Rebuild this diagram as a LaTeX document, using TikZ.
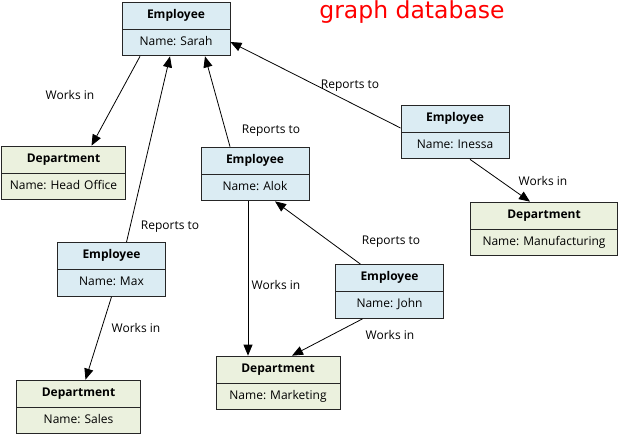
\documentclass[tikz,border=0pt]{standalone}
\usepackage{fontspec}
\setmainfont{Open Sans}
\newfontfamily\titlefont{DejaVu Sans}
\usetikzlibrary{positioning,arrows.meta,shapes.multipart}
\frenchspacing

\definecolor{empblue}{RGB}{219,236,243}
\definecolor{depgreen}{RGB}{235,241,222}

\newcommand{\ent}[2]{\strut\textbf{#1}\nodepart{two}\strut #2}

\tikzset{
  entity/.style={rectangle split, rectangle split parts=2, draw=black!85, line width=0.9pt,
    align=center, inner xsep=0pt, inner ysep=6pt, font=\fontsize{12}{14}\selectfont},
  employee/.style={entity, fill=empblue, text width=108pt},
  department/.style={entity, fill=depgreen, text width=124pt},
  rel/.style={-{Triangle[length=11pt,width=9pt]}, line width=0.8pt},
  rellabel/.style={font=\fontsize{12}{14}\selectfont, inner sep=1pt},
}

\begin{document}
\begin{tikzpicture}[x=1pt,y=-1pt]
    \useasboundingbox (0,0) rectangle (620,435);

    \node[text=red, font=\titlefont\fontsize{23.5}{26}\selectfont, inner sep=0pt] (title) at (412,12.5) {graph database};

    % employees
    \node[employee] (sarah)  at (176,29)    {\ent{Employee}{Name: Sarah}};
    \node[employee] (alok)   at (255,174)   {\ent{Employee}{Name: Alok}};
    \node[employee] (inessa) at (455,132)   {\ent{Employee}{Name: Inessa}};
    \node[employee] (max)    at (111.5,269.5) {\ent{Employee}{Name: Max}};
    \node[employee] (john)   at (389.5,291.5) {\ent{Employee}{Name: John}};

    % departments
    \node[department] (head)  at (63.5,173) {\ent{Department}{Name: Head Office}};
    \node[department, text width=147pt] (manuf) at (544,229) {\ent{Department}{Name: Manufacturing}};
    \node[department] (mark)  at (278,383) {\ent{Department}{Name: Marketing}};
    \node[department] (sales) at (78.5,407) {\ent{Department}{Name: Sales}};

    % relations
    \draw[rel] ([xshift=-36pt]sarah.south) -- ([xshift=28pt]head.north);
    \draw[rel] ([xshift=15pt]max.north) -- ([xshift=-6pt]sarah.south);
    \draw[rel] ([xshift=-25pt]alok.north) -- ([xshift=29pt]sarah.south);
    \draw[rel] ([yshift=4pt]inessa.west) -- ([yshift=-13pt]sarah.east);
    \draw[rel] ([xshift=15pt]inessa.south) -- ([xshift=-14pt]manuf.north);
    \draw[rel] (max.south) -- ([xshift=7pt]sales.north);
    \draw[rel] ([xshift=-7pt]alok.south) -- ([xshift=-30pt]mark.north);
    \draw[rel] ([xshift=-29pt]john.north) -- ([xshift=20pt]alok.south);
    \draw[rel] ([xshift=-27pt]john.south) -- ([xshift=14pt]mark.north);

    \node[rellabel] (l1) at (70,95)   {Works in};
    \node[rellabel] (l2) at (170,227) {Reports to};
    \node[rellabel] (l3) at (271,131) {Reports to};
    \node[rellabel] (l4) at (350,86)  {Reports to};
    \node[rellabel] (l5) at (543,181) {Works in};
    \node[rellabel] (l6) at (136,328) {Works in};
    \node[rellabel] (l7) at (276,285) {Works in};
    \node[rellabel] (l8) at (391,242) {Reports to};
    \node[rellabel] (l9) at (390,335) {Works in};
\end{tikzpicture}
\end{document}
